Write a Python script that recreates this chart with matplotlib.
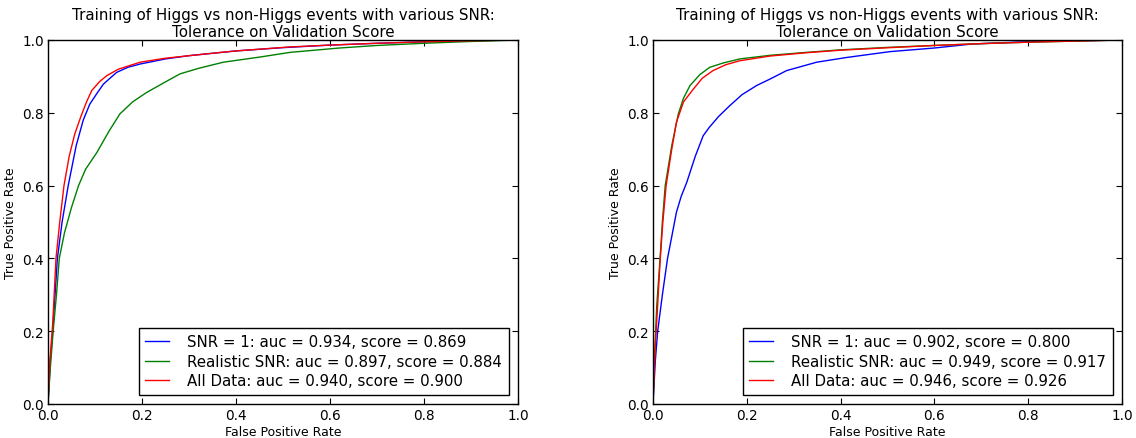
# ROC curves for Higgs vs non-Higgs training, two SNR tolerance settings
import matplotlib
matplotlib.use('Agg')
import matplotlib.pyplot as plt

title = "Training of Higgs vs non-Higgs events with various SNR:\nTolerance on Validation Score"
labels_left = ["SNR = 1: auc = 0.934, score = 0.869",
               "Realistic SNR: auc = 0.897, score = 0.884",
               "All Data: auc = 0.940, score = 0.900"]
labels_right = ["SNR = 1: auc = 0.902, score = 0.800",
                "Realistic SNR: auc = 0.949, score = 0.917",
                "All Data: auc = 0.946, score = 0.926"]

# left panel
fpr_l_snr1 = [0, 0.005, 0.01, 0.02, 0.03, 0.043, 0.06, 0.075, 0.089, 0.105, 0.118, 0.146, 0.17,
              0.196, 0.25, 0.3, 0.4, 0.5, 0.6, 0.7, 0.8, 0.9, 1.0]
tpr_l_snr1 = [0, 0.12, 0.2, 0.4, 0.5, 0.6, 0.71, 0.78, 0.824, 0.855, 0.879, 0.911, 0.925,
              0.934, 0.948, 0.957, 0.97, 0.979, 0.986, 0.991, 0.995, 0.998, 1.0]
fpr_l_real = [0, 0.005, 0.011, 0.018, 0.024, 0.035, 0.05, 0.065, 0.08, 0.104, 0.13, 0.153, 0.18,
              0.21, 0.25, 0.281, 0.32, 0.373, 0.45, 0.515, 0.62, 0.7, 0.8, 0.9, 1.0]
tpr_l_real = [0, 0.1, 0.2, 0.3, 0.4, 0.47, 0.54, 0.6, 0.645, 0.691, 0.75, 0.797, 0.83,
              0.856, 0.885, 0.907, 0.922, 0.939, 0.953, 0.966, 0.978, 0.985, 0.991, 0.996, 1.0]
fpr_l_all = [0, 0.004, 0.01, 0.017, 0.025, 0.034, 0.045, 0.057, 0.07, 0.082, 0.093, 0.11, 0.125,
             0.15, 0.196, 0.25, 0.338, 0.4, 0.515, 0.6, 0.7, 0.8, 0.9, 1.0]
tpr_l_all = [0, 0.12, 0.22, 0.4, 0.5, 0.6, 0.68, 0.742, 0.79, 0.83, 0.861, 0.886, 0.902,
             0.92, 0.939, 0.95, 0.962, 0.97, 0.981, 0.986, 0.991, 0.995, 0.998, 1.0]

# right panel
fpr_r_snr1 = [0, 0.005, 0.01, 0.02, 0.031, 0.04, 0.05, 0.06, 0.072, 0.09, 0.107, 0.12, 0.14,
              0.164, 0.19, 0.221, 0.25, 0.285, 0.349, 0.413, 0.505, 0.6, 0.68, 0.79, 0.9, 1.0]
tpr_r_snr1 = [0, 0.12, 0.2, 0.3, 0.4, 0.46, 0.527, 0.57, 0.609, 0.68, 0.737, 0.76, 0.79,
              0.82, 0.85, 0.875, 0.893, 0.916, 0.939, 0.952, 0.968, 0.978, 0.989, 0.995, 0.998, 1.0]
fpr_r_real = [0, 0.004, 0.008, 0.015, 0.02, 0.026, 0.04, 0.054, 0.065, 0.079, 0.1, 0.121, 0.15,
              0.185, 0.25, 0.327, 0.4, 0.505, 0.6, 0.7, 0.8, 0.9, 1.0]
tpr_r_real = [0, 0.15, 0.27, 0.398, 0.5, 0.6, 0.71, 0.797, 0.84, 0.875, 0.905, 0.925, 0.937,
              0.948, 0.958, 0.966, 0.973, 0.98, 0.985, 0.99, 0.994, 0.997, 1.0]
fpr_r_all = [0, 0.004, 0.009, 0.015, 0.021, 0.028, 0.04, 0.05, 0.065, 0.086, 0.105, 0.128, 0.155,
             0.185, 0.25, 0.327, 0.4, 0.505, 0.6, 0.7, 0.8, 0.9, 1.0]
tpr_r_all = [0, 0.14, 0.25, 0.39, 0.5, 0.6, 0.7, 0.774, 0.83, 0.865, 0.895, 0.916, 0.932,
             0.943, 0.956, 0.965, 0.972, 0.979, 0.985, 0.99, 0.994, 0.997, 1.0]

colours = ['b', 'g', 'r']


def draw_panel(ax, curves, labels):
    for (x, y), lab, c in zip(curves, labels, colours):
        ax.plot(x, y, color=c, lw=1.0, label=lab)
    ax.set_xlim(0, 1)
    ax.set_ylim(0, 1)
    ax.set_xticks([0, 0.2, 0.4, 0.6, 0.8, 1.0])
    ax.set_yticks([0, 0.2, 0.4, 0.6, 0.8, 1.0])
    ax.set_xticklabels(['0.0', '0.2', '0.4', '0.6', '0.8', '1.0'])
    ax.set_yticklabels(['0.0', '0.2', '0.4', '0.6', '0.8', '1.0'])
    ax.tick_params(direction='in', top=True, right=True, length=4, labelsize=9.8, pad=3)
    for s in ax.spines.values():
        s.set_linewidth(1.0)
    ax.set_xlabel('False Positive Rate', fontsize=9, labelpad=2)
    ax.set_ylabel('True Positive Rate', fontsize=9, labelpad=4)
    ax.set_title(title, fontsize=10.9, linespacing=1.15, pad=3)
    leg = ax.legend(loc='lower right', fontsize=10.8, fancybox=False, framealpha=1,
                    edgecolor='black', handlelength=1.6, borderaxespad=0.6,
                    labelspacing=0.3, handletextpad=1.2, borderpad=0.45)
    leg.get_frame().set_linewidth(1.0)


fig = plt.figure(figsize=(11.36, 4.39), dpi=100)
ax1 = fig.add_axes([48 / 1136, 34 / 439, 470 / 1136, 364 / 439])
ax2 = fig.add_axes([653 / 1136, 34 / 439, 469 / 1136, 364 / 439])

draw_panel(ax1, [(fpr_l_snr1, tpr_l_snr1), (fpr_l_real, tpr_l_real), (fpr_l_all, tpr_l_all)], labels_left)
draw_panel(ax2, [(fpr_r_snr1, tpr_r_snr1), (fpr_r_real, tpr_r_real), (fpr_r_all, tpr_r_all)], labels_right)

fig.savefig('out.png', dpi=100)
